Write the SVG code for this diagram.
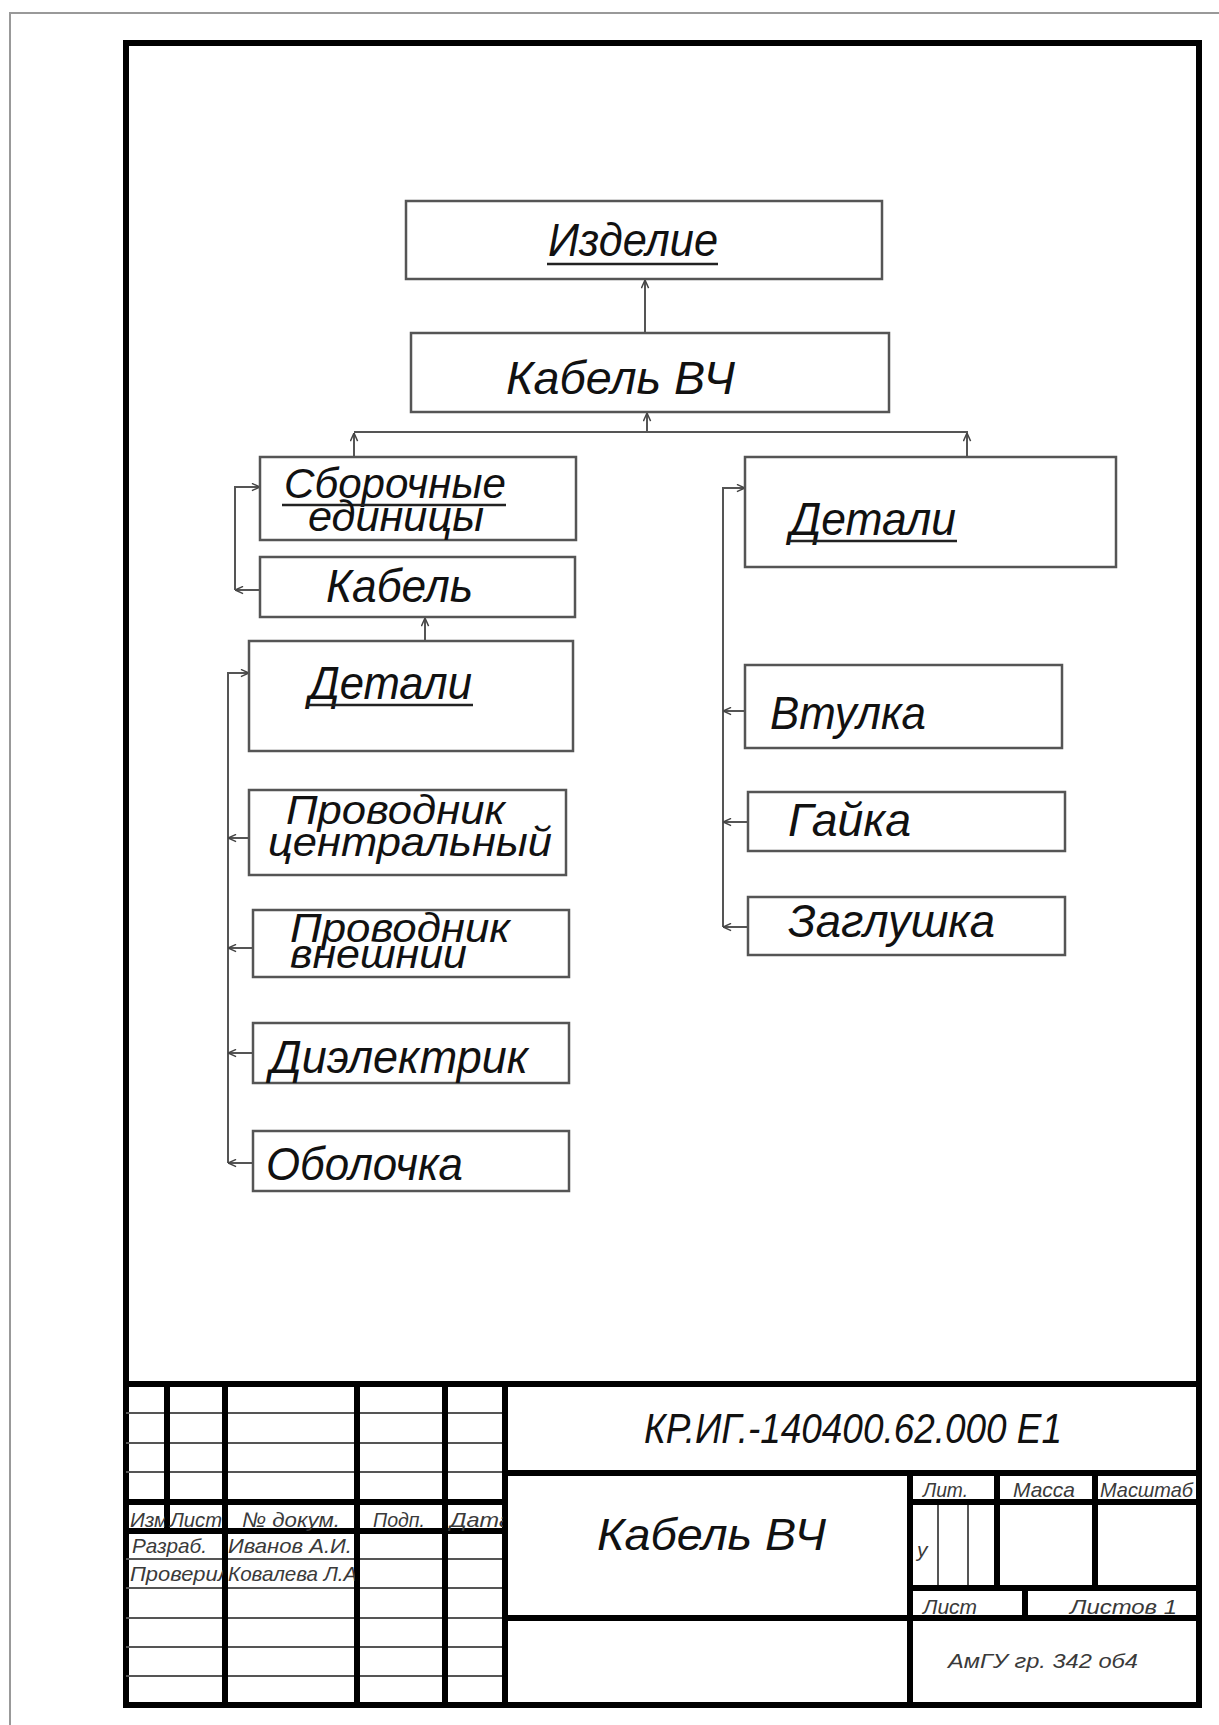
<svg xmlns="http://www.w3.org/2000/svg" width="1219" height="1725" viewBox="0 0 1219 1725">
<style>
.box{fill:#fff;stroke:#555;stroke-width:2.5}
.t{font-family:"Liberation Sans","DejaVu Sans",sans-serif;font-style:italic;fill:#111;lengthAdjust:spacingAndGlyphs}
.ul{stroke:#222;stroke-width:2.5}
.con{fill:none;stroke:#555;stroke-width:2}
.thick{stroke:#000;stroke-width:6;fill:none}
.thin{stroke:#555;stroke-width:2;fill:none}
.s{font-family:"Liberation Sans","DejaVu Sans",sans-serif;font-style:italic;fill:#3a3a3a;font-size:21px}
</style>
<defs>
<marker id="arr" viewBox="0 0 10 10" refX="10" refY="5" markerWidth="9" markerHeight="9" markerUnits="userSpaceOnUse" orient="auto">
<path d="M1,1 L10,5 L1,9" fill="none" stroke="#444" stroke-width="1.6"/>
</marker>
<clipPath id="cIzm"><rect x="128" y="1505" width="37" height="26"/></clipPath>
<clipPath id="cData"><rect x="448" y="1505" width="55" height="26"/></clipPath>
<clipPath id="cProv"><rect x="128" y="1561" width="95" height="26"/></clipPath>
<clipPath id="cKov"><rect x="227" y="1561" width="128" height="26"/></clipPath>
</defs>
<rect width="1219" height="1725" fill="#fff"/>
<!-- page border -->
<path d="M10,1725 L10,13 L1219,13" fill="none" stroke="#999" stroke-width="2"/>
<!-- frame -->
<rect x="126" y="43" width="1073" height="1662" class="thick"/>

<!-- connectors -->
<g id="connectors">
<path class="con" d="M645,333 L645,280" marker-end="url(#arr)"/>
<path class="con" d="M354,432 L968,432"/>
<path class="con" d="M647,432 L647,413" marker-end="url(#arr)"/>
<path class="con" d="M354,457 L354,433" marker-end="url(#arr)"/>
<path class="con" d="M967,457 L967,433" marker-end="url(#arr)"/>
<path class="con" d="M260,590 L235,590" marker-end="url(#arr)"/>
<path class="con" d="M235,590 L235,487 L260,487" marker-end="url(#arr)"/>
<path class="con" d="M425,641 L425,618" marker-end="url(#arr)"/>
<path class="con" d="M228,1163 L228,673 L249,673" marker-end="url(#arr)"/>
<path class="con" d="M249,838 L228,838" marker-end="url(#arr)"/>
<path class="con" d="M253,948 L228,948" marker-end="url(#arr)"/>
<path class="con" d="M253,1053 L228,1053" marker-end="url(#arr)"/>
<path class="con" d="M253,1163 L228,1163" marker-end="url(#arr)"/>
<path class="con" d="M723,927 L723,488 L745,488" marker-end="url(#arr)"/>
<path class="con" d="M745,711 L723,711" marker-end="url(#arr)"/>
<path class="con" d="M748,822 L723,822" marker-end="url(#arr)"/>
<path class="con" d="M748,927 L723,927" marker-end="url(#arr)"/>
</g>

<g id="n-izdelie">
<rect class="box" x="406" y="201" width="476" height="78"/>
<text class="t" x="548" y="256" font-size="46" textLength="170" lengthAdjust="spacingAndGlyphs">Изделие</text>
<line class="ul" x1="547" y1="264" x2="718" y2="264"/>
</g>
<g id="n-kabel-vch">
<rect class="box" x="411" y="333" width="478" height="79"/>
<text class="t" x="506" y="394" font-size="46" textLength="229" lengthAdjust="spacingAndGlyphs">Кабель ВЧ</text>
</g>
<g id="n-sborochnye">
<rect class="box" x="260" y="457" width="316" height="83"/>
<text class="t" x="284" y="498" font-size="42" textLength="222" lengthAdjust="spacingAndGlyphs">Сборочные</text>
<line class="ul" x1="282" y1="505" x2="506" y2="505"/>
<text class="t" x="308" y="531" font-size="42" textLength="176" lengthAdjust="spacingAndGlyphs">единицы</text>
</g>
<g id="n-detali-r">
<rect class="box" x="745" y="457" width="371" height="110"/>
<text class="t" x="790" y="535" font-size="46" textLength="166" lengthAdjust="spacingAndGlyphs">Детали</text>
<line class="ul" x1="788" y1="541" x2="957" y2="541"/>
</g>
<g id="n-kabel">
<rect class="box" x="260" y="557" width="315" height="60"/>
<text class="t" x="326" y="602" font-size="46" textLength="147" lengthAdjust="spacingAndGlyphs">Кабель</text>
</g>
<g id="n-detali-l">
<rect class="box" x="249" y="641" width="324" height="110"/>
<text class="t" x="309" y="699" font-size="46" textLength="163" lengthAdjust="spacingAndGlyphs">Детали</text>
<line class="ul" x1="307" y1="705" x2="473" y2="705"/>
</g>
<g id="n-provodnik-c">
<rect class="box" x="249" y="790" width="317" height="85"/>
<text class="t" x="286" y="824" font-size="40" textLength="219" lengthAdjust="spacingAndGlyphs">Проводник</text>
<text class="t" x="268" y="856" font-size="40" textLength="284" lengthAdjust="spacingAndGlyphs">центральный</text>
</g>
<g id="n-provodnik-v">
<rect class="box" x="253" y="910" width="316" height="67"/>
<text class="t" x="290" y="942" font-size="40" textLength="220" lengthAdjust="spacingAndGlyphs">Проводник</text>
<text class="t" x="290" y="968" font-size="40" textLength="177" lengthAdjust="spacingAndGlyphs">внешнии</text>
</g>
<g id="n-dielektrik">
<rect class="box" x="253" y="1023" width="316" height="60"/>
<text class="t" x="270" y="1073" font-size="46" textLength="258" lengthAdjust="spacingAndGlyphs">Диэлектрик</text>
</g>
<g id="n-obolochka">
<rect class="box" x="253" y="1131" width="316" height="60"/>
<text class="t" x="266" y="1180" font-size="46" textLength="197" lengthAdjust="spacingAndGlyphs">Оболочка</text>
</g>
<g id="n-vtulka">
<rect class="box" x="745" y="665" width="317" height="83"/>
<text class="t" x="770" y="729" font-size="46" textLength="156" lengthAdjust="spacingAndGlyphs">Втулка</text>
</g>
<g id="n-gaika">
<rect class="box" x="748" y="792" width="317" height="59"/>
<text class="t" x="788" y="836" font-size="46" textLength="123" lengthAdjust="spacingAndGlyphs">Гайка</text>
</g>
<g id="n-zaglushka">
<rect class="box" x="748" y="897" width="317" height="58"/>
<text class="t" x="788" y="937" font-size="46" textLength="207" lengthAdjust="spacingAndGlyphs">Заглушка</text>
</g>

<!-- title block -->
<g id="title-block">
<path class="thin" d="M126,1413 H505 M126,1443 H505 M126,1472 H505 M126,1559 H505 M126,1588 H505 M126,1618 H505 M126,1647 H505 M126,1676 H505 M938,1502 V1588 M968,1502 V1588"/>
<path class="thick" d="M126,1384 H1199 M126,1502 H505 M126,1531 H505 M167,1384 V1531 M225,1384 V1705 M357,1384 V1705 M445,1384 V1705 M505,1384 V1705 M505,1473 H1199 M505,1618 H1199 M910,1473 V1705 M910,1502 H1199 M910,1588 H1199 M997,1473 V1588 M1095,1473 V1588 M1025,1588 V1618"/>
<text class="t" x="644" y="1443" font-size="42" textLength="418" lengthAdjust="spacingAndGlyphs">КР.ИГ.-140400.62.000 Е1</text>
<text class="t" x="597" y="1550" font-size="44" textLength="229" lengthAdjust="spacingAndGlyphs">Кабель ВЧ</text>
<text class="s" x="923" y="1497" textLength="45" lengthAdjust="spacingAndGlyphs">Лит.</text>
<text class="s" x="1013" y="1497" textLength="62" lengthAdjust="spacingAndGlyphs">Масса</text>
<text class="s" x="1100" y="1497" textLength="93" lengthAdjust="spacingAndGlyphs">Масштаб</text>
<text class="s" x="917" y="1557" font-size="24">у</text>
<text class="s" x="923" y="1614" textLength="54" lengthAdjust="spacingAndGlyphs">Лист</text>
<text class="s" x="1070" y="1614" textLength="107" lengthAdjust="spacingAndGlyphs">Листов  1</text>
<text class="s" x="948" y="1668" textLength="190" lengthAdjust="spacingAndGlyphs">АмГУ гр. 342 об4</text>
<text class="s" x="130" y="1527" textLength="44" lengthAdjust="spacingAndGlyphs" clip-path="url(#cIzm)">Изм.</text>
<text class="s" x="170" y="1527" textLength="52" lengthAdjust="spacingAndGlyphs">Лист</text>
<text class="s" x="242" y="1527" textLength="98" lengthAdjust="spacingAndGlyphs">№ докум.</text>
<text class="s" x="373" y="1527" textLength="52" lengthAdjust="spacingAndGlyphs">Подп.</text>
<text class="s" x="450" y="1527" textLength="62" lengthAdjust="spacingAndGlyphs" clip-path="url(#cData)">Дата</text>
<text class="s" x="132" y="1553" textLength="75" lengthAdjust="spacingAndGlyphs">Разраб.</text>
<text class="s" x="228" y="1553" textLength="124" lengthAdjust="spacingAndGlyphs">Иванов А.И.</text>
<text class="s" x="130" y="1581" textLength="100" lengthAdjust="spacingAndGlyphs" clip-path="url(#cProv)">Проверил</text>
<text class="s" x="228" y="1581" textLength="135" lengthAdjust="spacingAndGlyphs" clip-path="url(#cKov)">Ковалева Л.А.</text>
</g>
</svg>
